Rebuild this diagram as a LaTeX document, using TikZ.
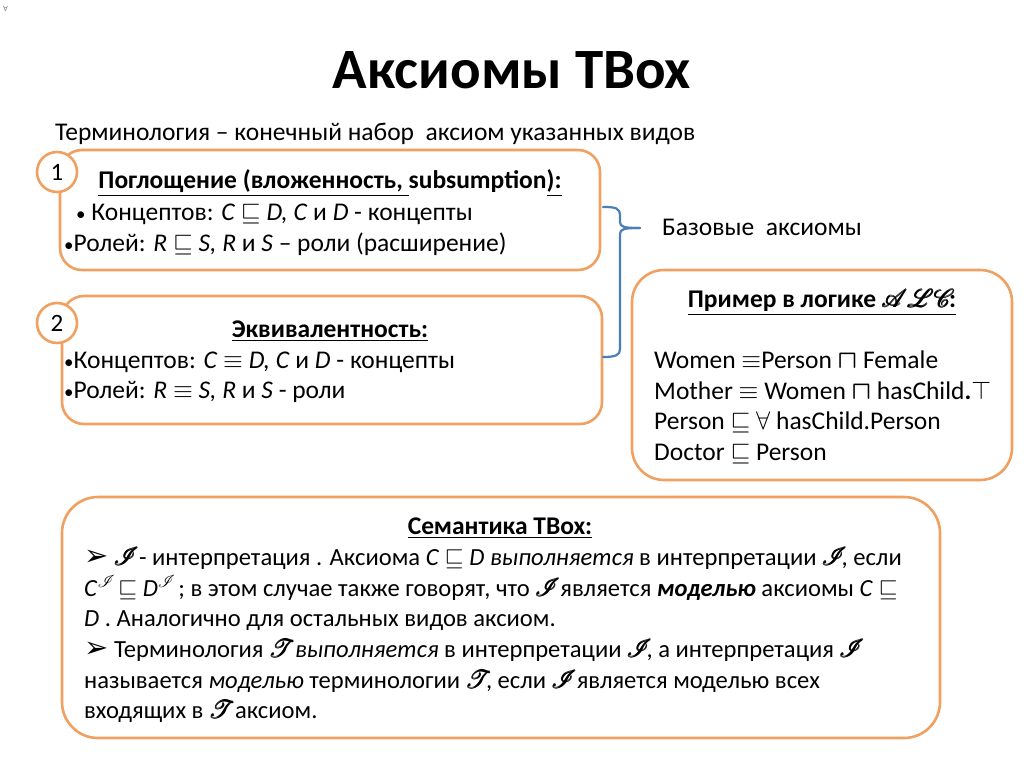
\RequirePackage{fix-cm}
\documentclass[tikz,border=0pt]{standalone}
\usepackage{amsmath}
\usepackage{fontspec}
\usepackage{mathrsfs}
\setmainfont{Carlito}
\newfontfamily\dejavu{DejaVu Sans}
\definecolor{orng}{HTML}{F0A060}
\definecolor{brc}{HTML}{4A7EBB}
\newcommand{\scI}{\pmb{$\mathscr{I}\mkern-4mu$}}
\newcommand{\scT}{\pmb{$\mathscr{T}\mkern-4mu$}}
\newcommand{\arr}{{\dejavu\fontsize{29}{30}\selectfont ➢}}
\newcommand{\bul}{{\fontsize{19}{20}\selectfont •}}
\newcommand{\sqc}{$\boldsymbol{\sqcap}$}
\begin{document}
\begin{tikzpicture}[x=1pt,y=-1pt,
  box/.style={draw=orng, line width=2.6pt, rounded corners=22pt, fill=white},
  num/.style={circle, draw=orng, line width=2.6pt, fill=white, minimum size=40pt, inner sep=0pt, font=\fontsize{25}{26}\selectfont},
  txt/.style={anchor=base west, inner sep=0pt, font=\fontsize{25.5}{28}\selectfont},
  ctxt/.style={anchor=base, inner sep=0pt, font=\fontsize{25.5}{28}\selectfont\bfseries},
  stxt/.style={anchor=base west, inner sep=0pt, font=\fontsize{24.6}{28}\selectfont}]
\useasboundingbox (0,0) rectangle (1024,768);
\fill[white] (0,0) rectangle (1024,768);
\node[anchor=base west, inner sep=0pt, font=\dejavu\fontsize{7}{8}\selectfont, text=gray] (corner) at (3,12) {∀};
\node[anchor=base, inner sep=0pt, font=\fontsize{57}{60}\selectfont\bfseries] (title) at (512,88) {Аксиомы TBox};
\node[txt] (sub) at (55,140) {Терминология – конечный набор\ \ аксиом указанных видов};
% box 1
\draw[box] (60,150) rectangle (600,270);
\node[num] (n1) at (57,172) {1};
\node[ctxt] (t1) at (330,188) {\underline{Поглощение (вложенность, }subsumption\underline{):}};
\node[txt] (a1) at (76,220) {\bul{} Концептов: \textit{C} $\sqsubseteq$ \textit{D, C} и \textit{D} - концепты};
\node[txt] (a2) at (64,251) {\bul Ролей: \textit{R} $\sqsubseteq$ \textit{S, R} и \textit{S} – роли (расширение)};
% box 2
\draw[box] (62,296) rectangle (602,424);
\node[num] (n2) at (57,323) {2};
\node[ctxt] (t2) at (330,337) {\underline{Эквивалентность:}};
\node[txt] (b1) at (64,368) {\bul Концептов: \textit{C} $\equiv$ \textit{D, C} и \textit{D} - концепты};
\node[txt] (b2) at (64,398) {\bul Ролей: \textit{R} $\equiv$ \textit{S, R} и \textit{S} - роли};
% brace
\coordinate (bt) at (603,207);
\coordinate (bb) at (603,357);
\coordinate (btip) at (640,228);
\draw[brc, line width=2.2pt, line cap=round, line join=round]
  (bt) .. controls (616,207) and (620,208) .. (620,216)
  -- (620,222) .. controls (620,227) and (624,228) .. (btip);
\draw[brc, line width=2.2pt, line cap=round, line join=round]
  (btip) .. controls (624,228) and (620,229) .. (620,234)
  -- (620,349) .. controls (620,355) and (616,357) .. (bb);
\node[txt] (base) at (662,235) {Базовые\ \ аксиомы};
% example
\draw[box, rounded corners=32pt] (632,270) rectangle (1012,480);
\node[ctxt] (et) at (822,307) {\underline{Пример в логике \pmb{$\mathscr{ALC}\mkern-4mu$}:}};
\node[txt] (e1) at (654,368) {Women $\equiv$Person \sqc{} Female};
\node[txt] (e2) at (654,399) {Mother $\equiv$ Women \sqc{} hasChild\textbf{.}$\top$};
\node[txt] (e3) at (654,429) {Person $\sqsubseteq$ $\forall$ hasChild.Person};
\node[txt] (e4) at (654,460) {Doctor $\sqsubseteq$ Person};
% semantics
\draw[box, rounded corners=36pt] (62,497) rectangle (940,738);
\node[ctxt] (st) at (500,534) {\underline{Семантика TBox:}};
\node[stxt] (s1) at (84,565) {\arr{} \scI{} - интерпретация . Аксиома \textit{C} $\sqsubseteq$ \textit{D выполняется} в интерпретации \scI, если};
\node[stxt] (s2) at (84,596) {\textit{C}$^{\mathscr{I}\mkern-3mu}$ $\sqsubseteq$ \textit{D}$^{\mathscr{I}\mkern-3mu}$ ; в этом случае также говорят, что \scI{} является \textbf{\textit{моделью}} аксиомы \textit{C} $\sqsubseteq$};
\node[stxt] (s3) at (84,626) {\textit{D} . Аналогично для остальных видов аксиом.};
\node[stxt] (s4) at (84,657) {\arr{} Терминология \scT{} \textit{выполняется} в интерпретации \scI, а интерпретация \scI};
\node[stxt] (s5) at (84,688) {называется \textit{моделью} терминологии \scT, если \scI{} является моделью всех};
\node[stxt] (s6) at (84,718) {входящих в \scT{} аксиом.};
\end{tikzpicture}
\end{document}
